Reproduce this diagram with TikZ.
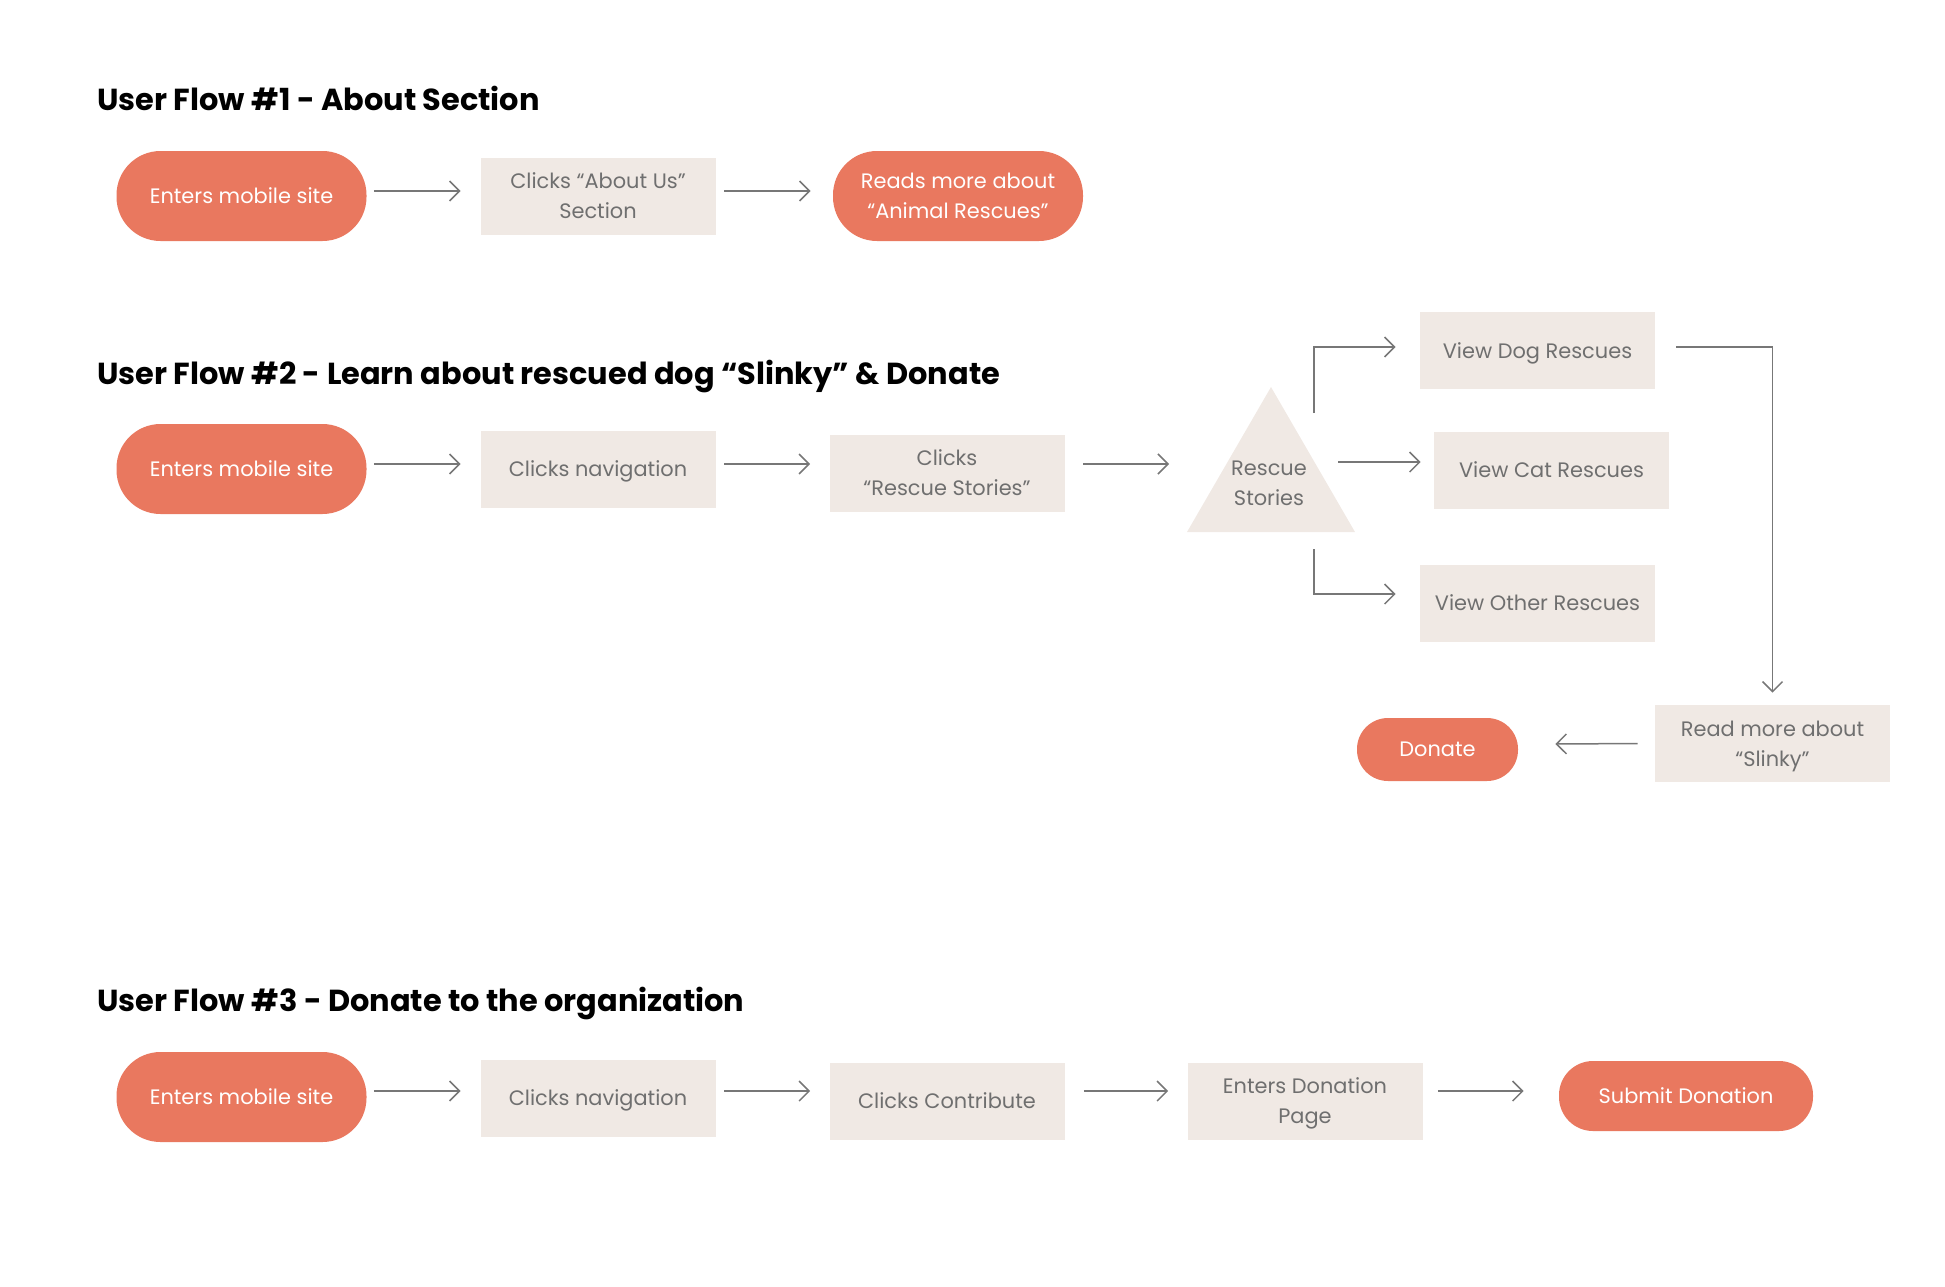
\documentclass[tikz,border=0pt]{standalone}
\usepackage{fontspec}
\setmainfont{Poppins}
\usetikzlibrary{calc,arrows.meta}

\definecolor{pillred}{HTML}{E9785F}
\definecolor{cardfill}{HTML}{F0E9E4}
\definecolor{cardtext}{HTML}{6F6F6F}
\definecolor{linegray}{HTML}{777777}

\tikzset{
	heading/.style={anchor=west, inner sep=0pt, font=\fontsize{15.2}{18}\selectfont\bfseries},
	pill/.style={fill=pillred, text=white, rounded corners=22pt, minimum width=125pt, minimum height=45pt, inner sep=0pt, text depth=0pt, align=center, font=\fontsize{10.45}{15}\selectfont},
	card/.style={fill=cardfill, text=cardtext, minimum width=117.5pt, minimum height=38.5pt, inner sep=0pt, text depth=0pt, align=center, font=\fontsize{10.45}{15}\selectfont},
	flow/.style={draw=linegray, line width=0.75pt, -{Straight Barb[length=5pt,width=10pt]}}
}

\begin{document}
\begin{tikzpicture}[x=0.5pt, y=-0.5pt]
			%%%%% START %%%%%
			
			\useasboundingbox (0, 0) rectangle (1945, 1286);
			
			% flow 1
			\node[heading] (title1) at (97, 98) {User Flow \#1 - About Section};
			
			\node[pill] (enterA) at (241.5, 196) {Enters mobile site};
			\node[card] (aboutus) at (598, 196) {Clicks “About Us”\\Section};
			\node[pill] (readanimal) at (958, 196) {Reads more about\\“Animal Rescues”};
			
			\draw[flow] ($(enterA.east)+(7, -5)$) -- ($(aboutus.west)+(-19.5, -5)$);
			\draw[flow] ($(aboutus.east)+(8.5, -5)$) -- ($(readanimal.west)+(-22, -5)$);
			
			% flow 2
			\node[heading] (title2) at (97, 376) {User Flow \#2 - Learn about rescued dog “Slinky” \& Donate};
			
			\node[pill] (enterB) at (241.5, 469) {Enters mobile site};
			\node[card] (clicknavB) at (598, 469) {Clicks navigation};
			\node[card] (clickrescue) at (947, 473) {Clicks\\“Rescue Stories”};
			
			\fill[cardfill] (1271, 387) -- (1355, 532) -- (1187, 532) -- cycle;
			\node[text=cardtext, align=center, inner sep=0pt, font=\fontsize{10.45}{15}\selectfont] (rescue) at (1269, 483) {Rescue\\Stories};
			
			\node[card] (dog) at (1537.5, 350.5) {View Dog Rescues};
			\node[card] (cat) at (1551.5, 470) {View Cat Rescues};
			\node[card] (other) at (1537.5, 603) {View Other Rescues};
			\node[card] (readslinky) at (1772.5, 743.5) {Read more about\\“Slinky”};
			\node[pill, minimum width=80.5pt, minimum height=31.5pt, rounded corners=15.5pt] (donate) at (1437.5, 749.5) {Donate};
			
			\draw[flow] ($(enterB.east)+(7, -5)$) -- ($(clicknavB.west)+(-19.5, -5)$);
			\draw[flow] ($(clicknavB.east)+(8.5, -5)$) -- ($(clickrescue.west)+(-19, -9)$);
			\draw[flow] ($(clickrescue.east)+(18.5, -9)$) -- ($(rescue)+(-100, -19)$);
			\draw[flow] ($(rescue)+(45, -70)$) |- ($(dog.west)+(-24, -3.5)$);
			\draw[flow] ($(rescue)+(69, -21)$) -- ($(cat.west)+(-13, -8)$);
			\draw[flow] ($(rescue)+(45, 66)$) |- ($(other.west)+(-24, -9)$);
			\draw[flow] ($(dog.east)+(21, -3.5)$) -| ($(readslinky.north)+(0, -12)$);
			\draw[flow] ($(readslinky.west)+(-17, 0)$) -- ($(donate.east)+(37, -5.5)$);
			
			% flow 3
			\node[heading] (title3) at (97, 1003) {User Flow \#3 - Donate to the organization};
			
			\node[pill] (enterC) at (241.5, 1097) {Enters mobile site};
			\node[card] (clicknavC) at (598, 1098) {Clicks navigation};
			\node[card] (contribute) at (947, 1101) {Clicks Contribute};
			\node[card] (donationpage) at (1305, 1101) {Enters Donation\\Page};
			\node[pill, minimum width=127pt, minimum height=35pt, rounded corners=17pt] (submit) at (1686, 1096) {Submit Donation};
			
			\draw[flow] ($(enterC.east)+(7, -6)$) -- ($(clicknavC.west)+(-19.5, -7)$);
			\draw[flow] ($(clicknavC.east)+(8.5, -7)$) -- ($(contribute.west)+(-19, -10)$);
			\draw[flow] ($(contribute.east)+(19, -10)$) -- ($(donationpage.west)+(-19, -10)$);
			\draw[flow] ($(donationpage.east)+(15, -10)$) -- ($(submit.west)+(-35, -5)$);
			
			%%%%% END %%%%%
\end{tikzpicture}
\end{document}
